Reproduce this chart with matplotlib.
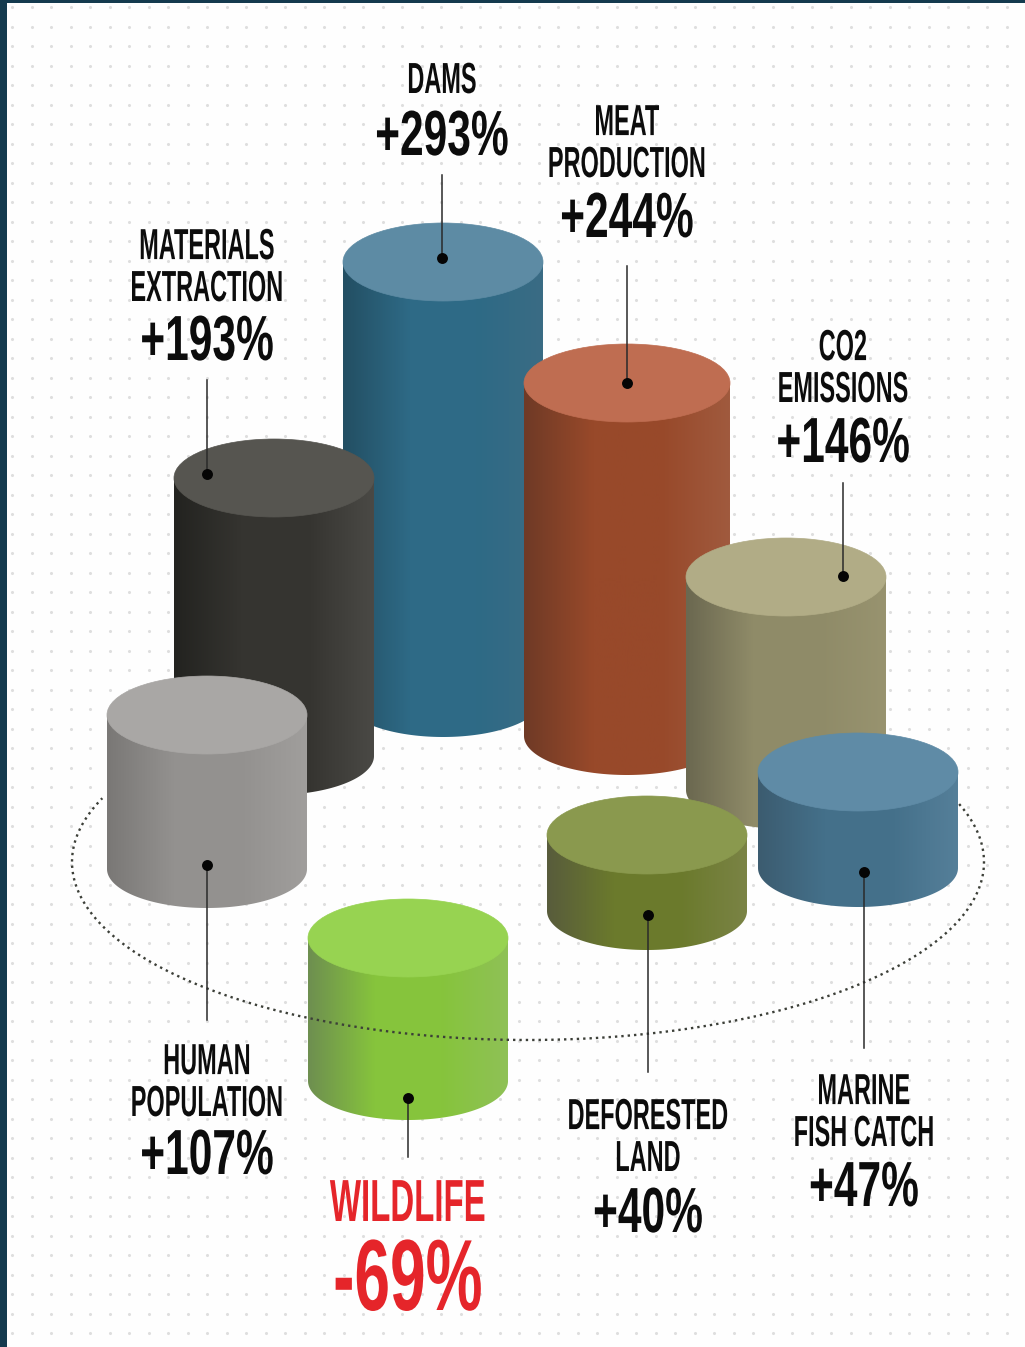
import numpy as np
import matplotlib
matplotlib.use("Agg")
import matplotlib.pyplot as plt
from matplotlib.colors import LinearSegmentedColormap
from matplotlib.patches import Ellipse, Polygon
from matplotlib.patheffects import AbstractPathEffect
from matplotlib.transforms import Affine2D

# listed back to front, the order the cylinders overlap in
categories = ["DAMS", "MATERIALS\nEXTRACTION", "MEAT\nPRODUCTION", "CO2\nEMISSIONS",
              "HUMAN\nPOPULATION", "DEFORESTED\nLAND", "MARINE\nFISH CATCH", "WILDLIFE"]
changes = [293, 193, 244, 146, 107, 40, 47, -69]
# drawn height of each cylinder in pixels (not to scale with changes)
heights = [436, 278, 353, 213, 154, 76, 96, 143]
bases = [698, 756, 736, 790, 869, 911, 868, 1081]
centers = [443, 274, 627, 786, 207, 647, 858, 408]
radii = [100, 100, 103, 100, 100, 100, 100, 100]

top_colors = ["#5d8ba4", "#565550", "#bf6d51", "#b1ac86", "#a9a7a5", "#8a994e", "#5f8ba6", "#97d351"]
side_colors = [("#234f63", "#2e6a86", "#3a6c84"),
               ("#232320", "#353430", "#4a4945"),
               ("#6f3a26", "#98492a", "#a05a3e"),
               ("#6b6850", "#8f8b68", "#98936f"),
               ("#7a7876", "#93918f", "#a09e9c"),
               ("#585c3c", "#6b7a2c", "#7a8345"),
               ("#3c5c70", "#44708a", "#557f99"),
               ("#6e8f50", "#86c43c", "#8fc156")]

# leader line x, dot y, far end y
leader_x = [442, 207, 627, 843, 207, 648, 864, 408]
dot_y = [258, 474, 383, 576, 865, 915, 872, 1098]
leader_end = [175, 380, 266, 483, 1020, 1072, 1048, 1157]

# baseline of the label block and of the number
label_base = [93, 301, 177, 402, 1116, 1171, 1146, 1221]
value_base = [155, 360, 237, 462, 1174, 1232, 1206, 1310]

RY = 39
FONT = ["Liberation Sans Narrow", "Liberation Sans"]


class Stretch(AbstractPathEffect):
    # the original lettering is much taller than any installed narrow font
    def __init__(self, sy):
        self.sy = sy

    def draw_path(self, renderer, gc, tpath, affine, rgbFace=None):
        renderer.draw_path(gc, tpath, Affine2D().scale(1, self.sy) + affine, rgbFace)


fig = plt.figure(figsize=(10.25, 13.47), dpi=100, facecolor="#fefefe")
ax = fig.add_axes([0, 0, 1, 1])
ax.axis("off")

gx, gy = np.meshgrid(np.arange(12, 1025, 19.5), np.arange(7, 1347, 19.5))
ax.scatter(gx.ravel(), gy.ravel(), s=5, color="#dedede", linewidths=0, zorder=1)

z = 2
for i in range(len(categories)):
    cx, rx = centers[i], radii[i]
    base, top = bases[i], bases[i] - heights[i]
    t = np.linspace(0, np.pi, 120)
    xs = np.r_[cx + rx, cx + rx * np.cos(t), cx - rx]
    ys = np.r_[top, base + RY * np.sin(t), top]
    body = Polygon(np.c_[xs, ys], closed=True, facecolor="none", edgecolor="none",
                   transform=ax.transData)
    ax.add_patch(body)
    cmap = LinearSegmentedColormap.from_list("side", [side_colors[i][0], side_colors[i][1],
                                                      side_colors[i][1], side_colors[i][2]])
    im = ax.imshow(np.linspace(0, 1, 200)[None, :], cmap=cmap, aspect="auto", zorder=z,
                   extent=(cx - rx, cx + rx, base + RY, top))
    im.set_clip_path(body)
    ax.add_patch(Ellipse((cx, top), 2 * rx, 2 * RY, facecolor=top_colors[i],
                         edgecolor=top_colors[i], lw=0.5, zorder=z + 0.5))
    z += 1

# ring around the group, only its front part is visible
t = np.linspace(np.radians(-19), np.radians(201), 400)
ax.plot(528 + 456 * np.cos(t), 862 + 178 * np.sin(t), color="#3c3f38", lw=1.7,
        ls=(0, (1, 1.7)), zorder=z)
z += 1

for i in range(len(categories)):
    ax.plot([leader_x[i], leader_x[i]], [dot_y[i], leader_end[i]], color="#2a2a2a", lw=1.1, zorder=z)
    ax.scatter(leader_x[i], dot_y[i], s=62, color="#050505", linewidths=0, zorder=z + 0.5)

    red = changes[i] < 0
    color = "#e5252a" if red else "#0c0c0c"
    label_px, label_sy = (33, 1.8) if red else (23.5, 1.85)
    value_px, value_sy = (64, 1.58) if red else (42.5, 1.5)
    ax.text(leader_x[i], label_base[i], categories[i], family=FONT, weight="bold", color=color,
            fontsize=label_px * 0.72, ha="center", va="baseline", linespacing=2.05,
            path_effects=[Stretch(label_sy)], zorder=z + 1)
    ax.text(leader_x[i], value_base[i], f"{changes[i]:+d}%", family=FONT, weight="bold", color=color,
            fontsize=value_px * 0.72, ha="center", va="baseline",
            path_effects=[Stretch(value_sy)], zorder=z + 1)

# frame of the page the picture was cut from
ax.fill_between([0, 7], 0, 1347, color="#143a4e", lw=0, zorder=z + 2)
ax.fill_between([0, 1025], 0, 3, color="#143a4e", lw=0, zorder=z + 2)

ax.set_xlim(0, 1025)
ax.set_ylim(1347, 0)
fig.savefig("out.png", dpi=100, facecolor=fig.get_facecolor())
